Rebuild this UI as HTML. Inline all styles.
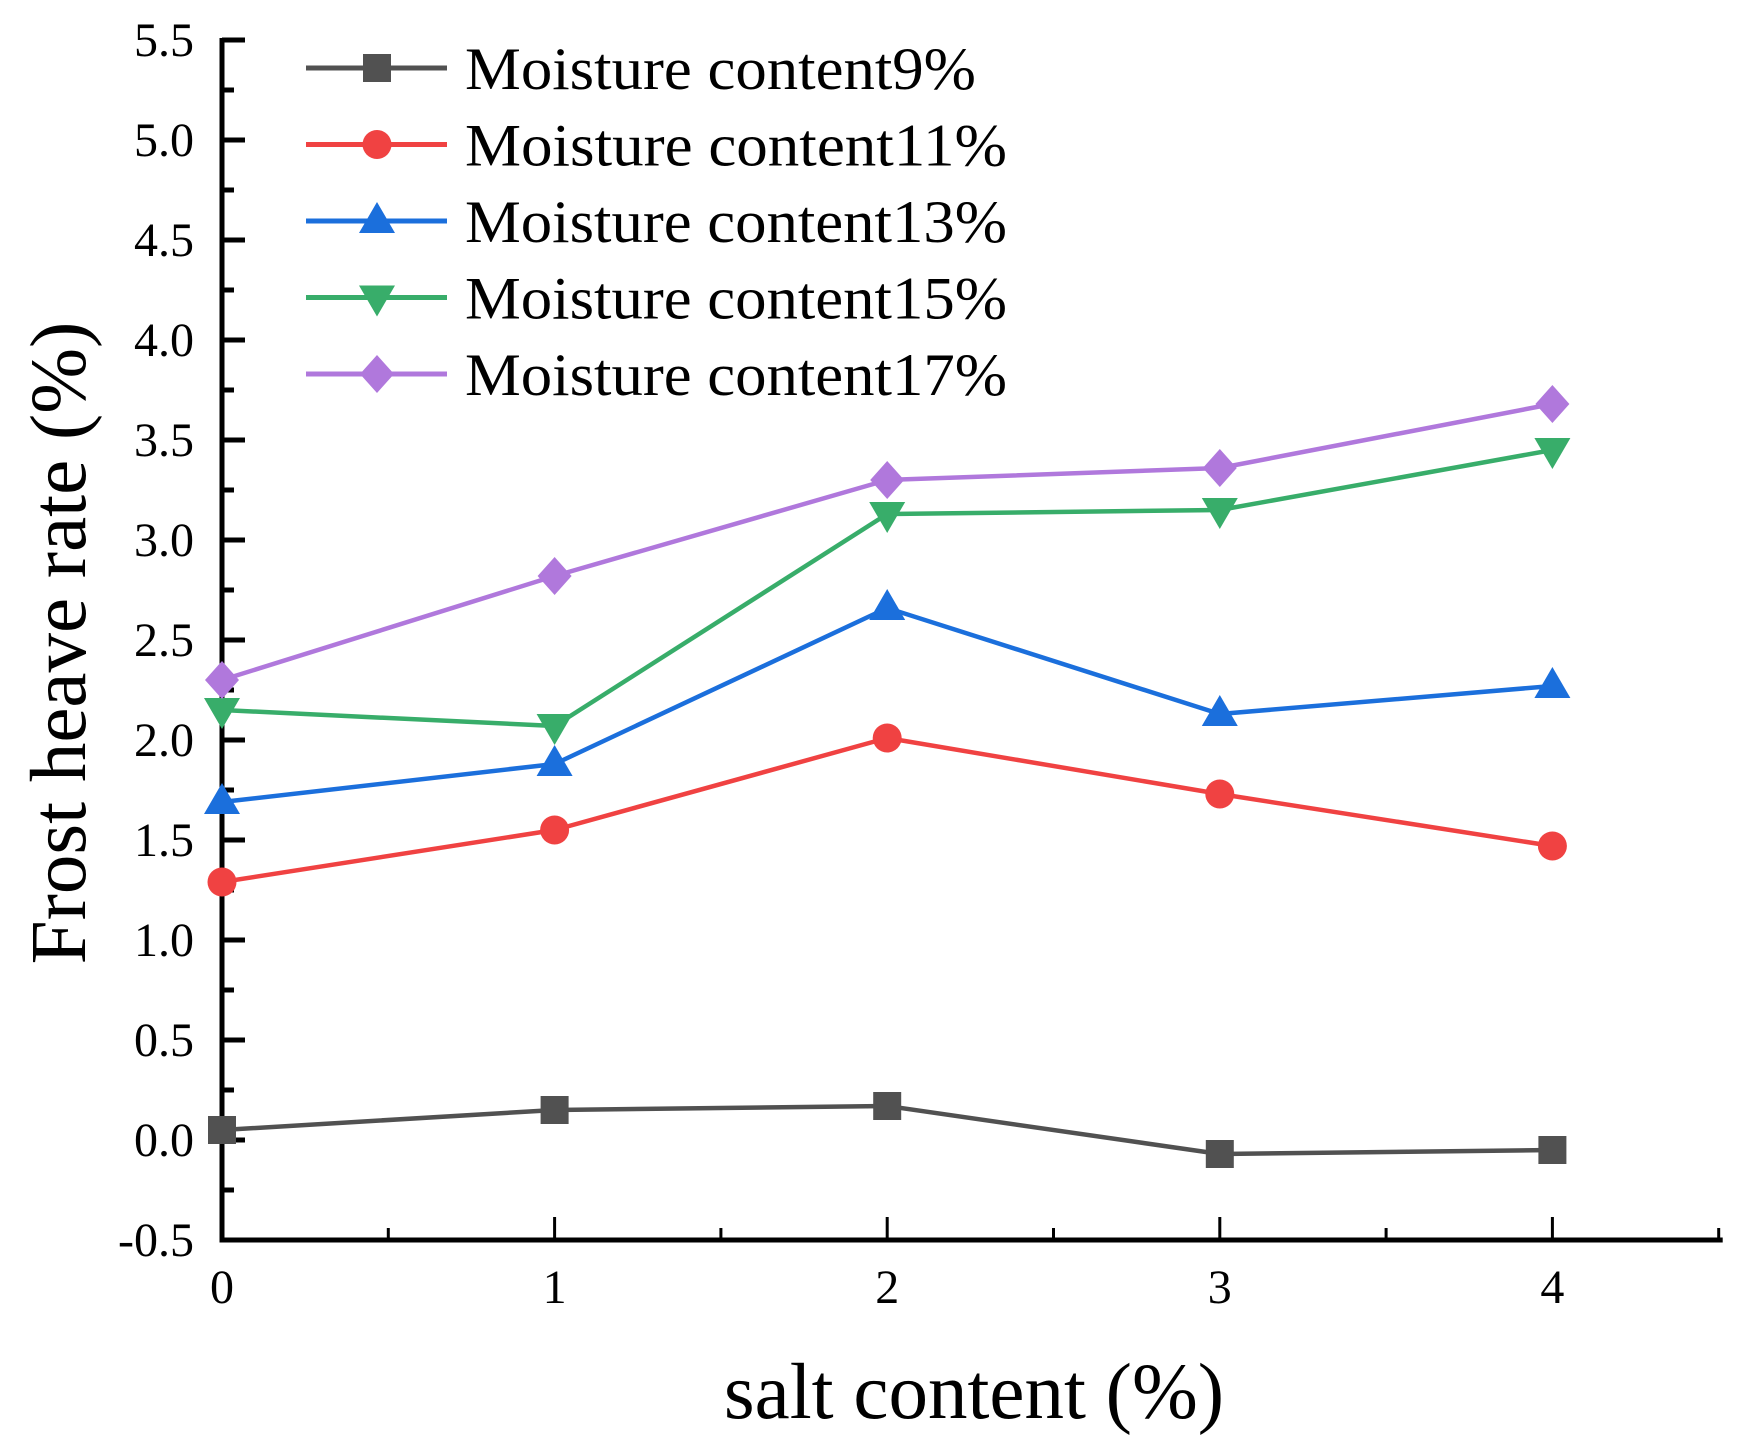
<!DOCTYPE html>
<html><head><meta charset="utf-8"><style>
html,body{margin:0;padding:0;background:#fff;}
svg{display:block;font-family:"Liberation Serif",serif;}
</style></head><body>
<svg id="chart" width="1753" height="1444" viewBox="0 0 1753 1444" xmlns="http://www.w3.org/2000/svg"></svg>
<script>
const categories = [0, 1, 2, 3, 4];
const xTickLabels = ["0", "1", "2", "3", "4"];
const yTickLabels = ["-0.5","0.0","0.5","1.0","1.5","2.0","2.5","3.0","3.5","4.0","4.5","5.0","5.5"];
const seriesNames = ["Moisture content9%","Moisture content11%","Moisture content13%","Moisture content15%","Moisture content17%"];
const m9 = [0.05, 0.15, 0.17, -0.07, -0.05];
const m11 = [1.29, 1.55, 2.01, 1.73, 1.47];
const m13 = [1.69, 1.88, 2.66, 2.13, 2.27];
const m15 = [2.15, 2.07, 3.13, 3.15, 3.45];
const m17 = [2.30, 2.82, 3.30, 3.36, 3.68];

const svg = document.getElementById('chart');
const NS = 'http://www.w3.org/2000/svg';
const X0 = 222, XPU = 332.6, Y0 = 40, YPU = 200, YMAX = 5.5, YMIN = -0.5, XMAX = 4.5;
function xs(v){ return X0 + v * XPU; }
function ys(v){ return Y0 + (YMAX - v) * YPU; }
function mk(tag, attrs){ const e = document.createElementNS(NS, tag); for (const k in attrs) e.setAttribute(k, attrs[k]); svg.appendChild(e); return e; }

const colors = ["#515151", "#f04242", "#1b6fdc", "#38ad6a", "#b078dc"];
const shapes = ["square", "circle", "up", "down", "diamond"];
const allSeries = [m9, m11, m13, m15, m17];

function marker(shape, cx, cy, color){
  let e;
  if (shape === 'square') e = mk('rect', {x: cx-14, y: cy-14, width: 28, height: 28, fill: color});
  else if (shape === 'circle') e = mk('circle', {cx: cx, cy: cy, r: 14.5, fill: color});
  else if (shape === 'up') e = mk('polygon', {points: `${cx},${cy-19} ${cx+18},${cy+12} ${cx-18},${cy+12}`, fill: color});
  else if (shape === 'down') e = mk('polygon', {points: `${cx},${cy+19} ${cx+18},${cy-12} ${cx-18},${cy-12}`, fill: color});
  else e = mk('polygon', {points: `${cx},${cy-19} ${cx+17},${cy} ${cx},${cy+19} ${cx-17},${cy}`, fill: color});
  return e;
}

let ax = mk('line', {x1: X0, y1: ys(YMIN), x2: xs(XMAX) + 4, y2: ys(YMIN), stroke: '#000', 'stroke-width': 5});


let ay = mk('line', {x1: X0, y1: ys(YMAX) - 2, x2: X0, y2: ys(YMIN) + 2.5, stroke: '#000', 'stroke-width': 5});



yTickLabels.forEach((lab, i) => {
  const v = YMIN + i * 0.5;
  const y = ys(v);
  const t = mk('line', {x1: X0, y1: y, x2: X0 + 23, y2: y, stroke: '#000', 'stroke-width': 5});
  
  
  if (i < yTickLabels.length - 1) {
    const m = mk('line', {x1: X0, y1: ys(v + 0.25), x2: X0 + 12, y2: ys(v + 0.25), stroke: '#000', 'stroke-width': 5});
    
    
  }
  const tx = mk('text', {x: 194, y: y + 16, 'text-anchor': 'end', 'font-size': 48});
  tx.textContent = lab;
  
  
});
categories.forEach((c, i) => {
  const x = xs(c);
  const t = mk('line', {x1: x, y1: ys(YMIN), x2: x, y2: ys(YMIN) - 23, stroke: '#000', 'stroke-width': 3});
  
  
  const m = mk('line', {x1: xs(c + 0.5), y1: ys(YMIN), x2: xs(c + 0.5), y2: ys(YMIN) - 12, stroke: '#000', 'stroke-width': 3});
  
  
  const tx = mk('text', {x: x, y: 1303, 'text-anchor': 'middle', 'font-size': 48});
  tx.textContent = xTickLabels[i];
  
  
});

let xt = mk('text', {x: 974, y: 1418, 'text-anchor': 'middle', 'font-size': 79});
xt.textContent = 'salt content (%)';


let yt = mk('text', {x: 0, y: 0, 'text-anchor': 'middle', 'font-size': 79, transform: 'translate(85,643) rotate(-90)'});
yt.textContent = 'Frost heave rate (%)';



allSeries.forEach((vals, si) => {
  const pts = vals.map((v, i) => `${xs(categories[i])},${ys(v)}`).join(' ');
  const pl = mk('polyline', {points: pts, fill: 'none', stroke: colors[si], 'stroke-width': 4.5, 'stroke-linejoin': 'round'});
  
  
  vals.forEach((v, i) => {
    const e = marker(shapes[si], xs(categories[i]), ys(v), colors[si]);
    
    
  });
});

seriesNames.forEach((name, si) => {
  const y = 68 + si * 76.5;
  const l = mk('line', {x1: 306, y1: y, x2: 447, y2: y, stroke: colors[si], 'stroke-width': 5});
  
  
  const e = marker(shapes[si], 377, y, colors[si]);
  
  
  const t = mk('text', {x: 465, y: y + 21, 'font-size': 60, textLength: si === 0 ? 511 : 542, lengthAdjust: 'spacingAndGlyphs'});
  t.textContent = name;
  
  
});
</script>
</body></html>
